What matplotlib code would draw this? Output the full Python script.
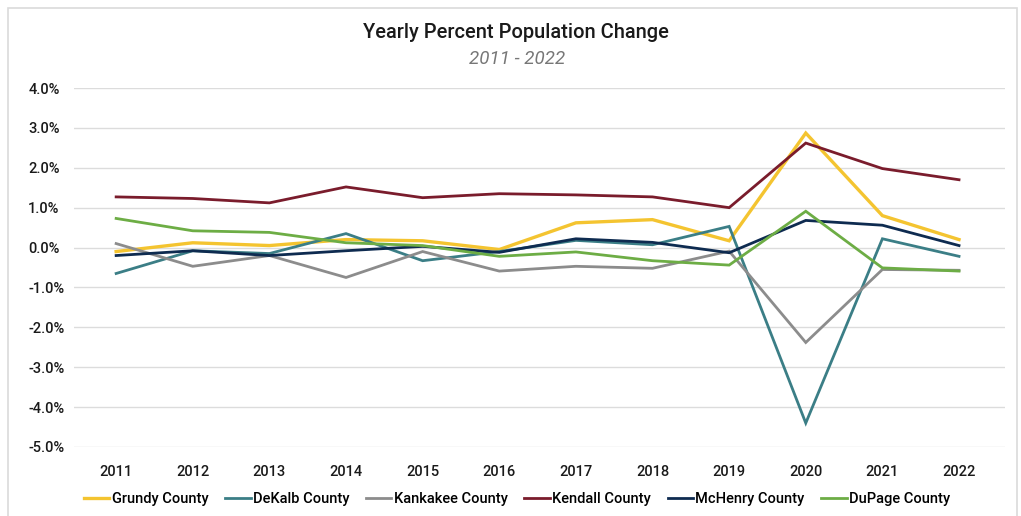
import matplotlib.pyplot as plt
from matplotlib.patches import Rectangle
from matplotlib.ticker import FuncFormatter

plt.rcParams['font.family'] = ['Roboto', 'DejaVu Sans']
plt.rcParams['font.weight'] = 'medium'

years = [2011, 2012, 2013, 2014, 2015, 2016, 2017, 2018, 2019, 2020, 2021, 2022]

grundy = [-0.10, 0.12, 0.05, 0.20, 0.17, -0.05, 0.62, 0.70, 0.17, 2.87, 0.80, 0.20]
dekalb = [-0.65, -0.08, -0.15, 0.35, -0.33, -0.10, 0.18, 0.07, 0.53, -4.40, 0.22, -0.22]
kankakee = [0.10, -0.47, -0.20, -0.75, -0.10, -0.59, -0.47, -0.52, -0.09, -2.38, -0.55, -0.57]
kendall = [1.27, 1.23, 1.12, 1.52, 1.25, 1.35, 1.32, 1.27, 1.00, 2.62, 1.98, 1.70]
mchenry = [-0.20, -0.08, -0.20, -0.08, 0.03, -0.12, 0.22, 0.13, -0.13, 0.68, 0.56, 0.05]
dupage = [0.73, 0.42, 0.38, 0.12, 0.05, -0.22, -0.11, -0.33, -0.44, 0.91, -0.51, -0.59]

names = ['Grundy County', 'DeKalb County', 'Kankakee County',
         'Kendall County', 'McHenry County', 'DuPage County']
series = [grundy, dekalb, kankakee, kendall, mchenry, dupage]
colors = ['#F4C430', '#3B7E86', '#8C8C8C', '#7A1C2C', '#0E2B50', '#6DAD45']
widths = [2.4, 2.0, 2.0, 2.0, 2.0, 2.0]

fig = plt.figure(figsize=(10.21, 5.16), dpi=100)
fig.patches.append(Rectangle((8 / 1021, -0.05), 1009 / 1021, 1 - 8 / 516 + 0.05,
                             transform=fig.transFigure, fill=False,
                             edgecolor='#DADADA', linewidth=1.2))

ax = fig.add_axes([74 / 1021, 1 - 447 / 516, 931 / 1021, 359 / 516])

for vals, name, c, w in zip(series, names, colors, widths):
    ax.plot(years, vals, color=c, linewidth=w, label=name, solid_joinstyle='miter')

ax.set_ylim(-5, 4)
ax.set_xlim(2010.45, 2022.6)
ax.set_yticks(range(-5, 5))
ax.yaxis.set_major_formatter(FuncFormatter(lambda v, p: f'{v:.1f}%'))
ax.set_xticks(years)
ax.grid(axis='y', color='#DCDCDC', linewidth=1)
ax.set_axisbelow(True)
for s in ax.spines.values():
    s.set_visible(False)
ax.tick_params(length=0, labelsize=10.5, colors='#1A1A1A')
ax.tick_params(axis='y', pad=33)
for lbl in ax.get_yticklabels():
    lbl.set_horizontalalignment('left')
ax.tick_params(axis='x', pad=13)

fig.text(0.505, 1 - 33 / 516, 'Yearly Percent Population Change',
         ha='center', va='center', fontsize=14.4, color='#1A1A1A')
fig.text(0.506, 1 - 59 / 516, '2011 - 2022', ha='center', va='center',
         fontsize=13.5, color='#777777', style='italic', weight='normal')

fig.legend(loc='center', bbox_to_anchor=(517 / 1021, 1 - 499 / 516), ncol=6,
           frameon=False, fontsize=10.5, handlelength=1.75, handletextpad=0.15,
           columnspacing=1.15)

fig.savefig('out.png', dpi=100)
